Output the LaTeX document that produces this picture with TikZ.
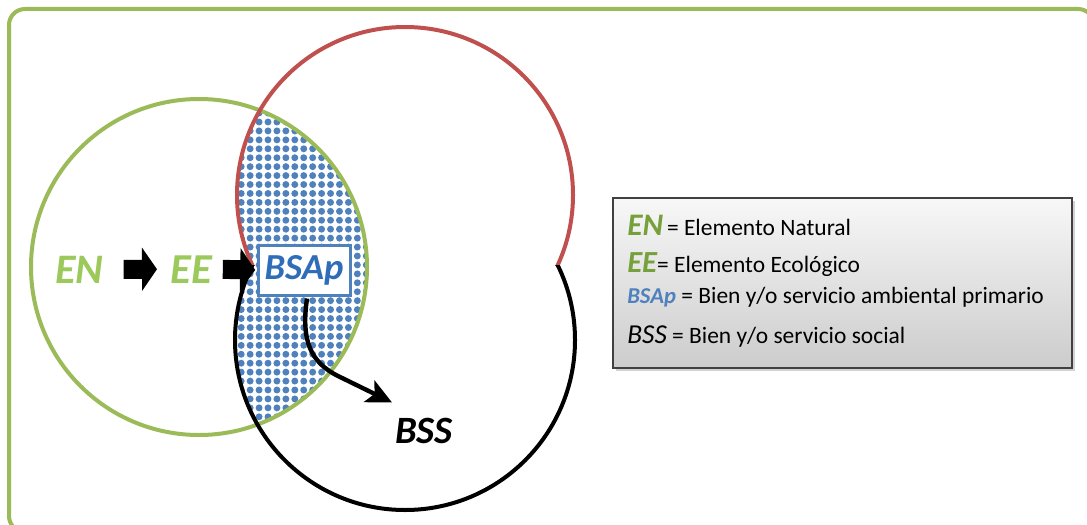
\documentclass[tikz,border=0pt]{standalone}
\usepackage{fontspec}
\setmainfont{Carlito}
\usetikzlibrary{arrows.meta,patterns.meta,shadows}
\definecolor{ogreen}{HTML}{9BBB59}
\definecolor{ored}{HTML}{C0504D}
\definecolor{oblue}{HTML}{4F81BD}
\definecolor{engreen}{HTML}{9CC95C}
\definecolor{lgreen}{HTML}{76A03A}
\definecolor{bsblue}{HTML}{2F6DB9}
\definecolor{legborder}{HTML}{404040}
\newcommand{\abr}[3]{{\fontsize{#1}{#1}\selectfont\bfseries\itshape\color{#2}#3}}
\begin{document}
\begin{tikzpicture}[x=0.75pt,y=-0.75pt,
  lbl/.style={inner sep=0pt, anchor=base west},
  leg/.style={inner sep=0pt, anchor=base west, font=\fontsize{17.6}{20}\selectfont},
  blockarr/.style={line width=14.25pt, -{Triangle[length=11.25pt,width=32pt]}},
  curvarr/.style={line width=3.3pt, -{Stealth[length=19pt,width=18pt,inset=4.5pt]}},
  ring/.style={line width=3pt},
  bsapbox/.style={draw=oblue, line width=2.25pt, fill=white, minimum width=69pt, minimum height=37.5pt, inner sep=0pt},
  legendbox/.style={draw=legborder, line width=1.5pt, top color=gray!6, bottom color=gray!40,
    drop shadow={opacity=0.35, shadow xshift=2pt, shadow yshift=-2pt},
    minimum width=344.25pt, minimum height=127.5pt, anchor=north west, inner sep=0pt}]
\useasboundingbox (0,0) rectangle (1087,524);
\clip (0,0) rectangle (1087,524);
% outer frame
\draw[ogreen, line width=3pt, rounded corners=12pt] (9,9) rectangle (1094,532);
% hatched overlap
\begin{scope}
  \clip (199,267) circle (168);
  \fill[pattern={Dots[radius=2.6pt,distance=6.7pt]}, pattern color=oblue]
    (405,195) circle (168) (405,340) circle (170);
\end{scope}
% green circle
\draw[ogreen, ring] (199,267) circle (168);
% red upper arc
\begin{scope}
  \clip (0,0) rectangle (1087,265.2);
  \draw[ored, ring] (405,195) circle (168);
\end{scope}
% black lower arc
\begin{scope}
  \clip (0,265.2) rectangle (1087,524);
  \draw[black, ring] (405,340) circle (170);
\end{scope}
% labels
\node[lbl] (en) at (55,283) {\abr{31.5pt}{engreen}{EN}};
\node[lbl] (ee) at (170,283) {\abr{32pt}{engreen}{EE}};
\node[bsapbox] (bsap) at (304,270) {\abr{27.5pt}{bsblue}{BSAp}};
\node[lbl] (bss) at (395,443) {\abr{29pt}{black}{BSS}};
% arrows
\draw[blockarr, shorten <=15pt, shorten >=9.75pt] (en.east) -- (ee.west);
\draw[blockarr, shorten <=8pt, shorten >=1pt] (ee.east) -- (bsap.west);
\draw[curvarr] ([shift={(3,2)}]bsap.south) .. controls (301,340) and (310,362) .. (338,376) -- ([shift={(-3,-15)}]bss.north west);
% legend
\node[legendbox] (legend) at (612,197) {};
\node[leg] (l1) at (627,235) {\abr{23.5pt}{lgreen}{EN}\,= Elemento Natural};
\node[leg] (l2) at (627,272) {\abr{23pt}{lgreen}{EE}= Elemento Ecológico};
\node[leg] (l3) at (627,303) {\abr{17pt}{oblue}{BSAp} = Bien y/o servicio ambiental primario};
\node[leg] (l4) at (627,343) {{\fontsize{20.5pt}{20.5pt}\selectfont\itshape BSS} = Bien y/o servicio social};
\end{tikzpicture}
\end{document}
